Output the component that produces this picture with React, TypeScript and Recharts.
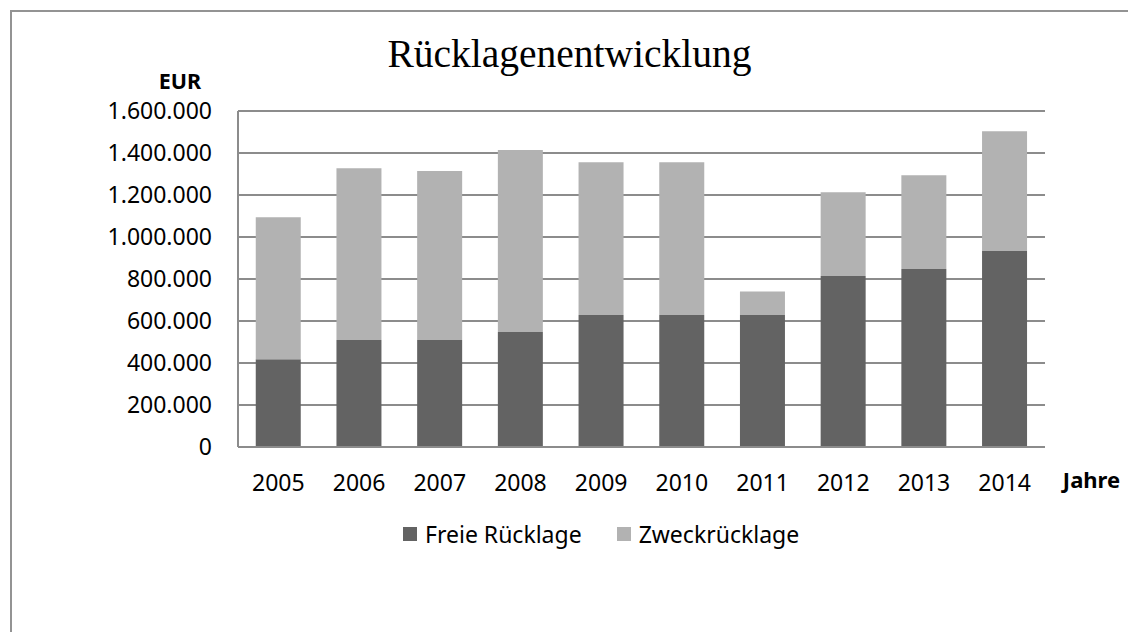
import { BarChart, Bar, XAxis, YAxis, CartesianGrid, Legend } from "recharts";

const years = ["2005", "2006", "2007", "2008", "2009", "2010", "2011", "2012", "2013", "2014"];
const freieRuecklage = [418000, 510000, 510000, 548000, 629000, 629000, 629000, 814000, 848000, 933000];
const zweckRuecklage = [676000, 817000, 804000, 866000, 727000, 727000, 112000, 399000, 446000, 570000];
const yTicks = [0, 200000, 400000, 600000, 800000, 1000000, 1200000, 1400000, 1600000];

const data = years.map((year, i) => ({
  year,
  freie: freieRuecklage[i],
  zweck: zweckRuecklage[i],
}));

const FONT = '"Noto Sans", sans-serif';
const GRID = "#8c8c8c";
const DARK = "#636363";
const LIGHT = "#b2b2b2";

const formatDe = (v: number) => String(v).replace(/\B(?=(\d{3})+(?!\d))/g, ".");

const legendItems = [
  { label: "Freie Rücklage", color: DARK },
  { label: "Zweckrücklage", color: LIGHT },
];

function ChartLegend() {
  return (
    <div style={{ display: "flex", alignItems: "center", fontFamily: FONT, fontSize: 23, color: "#000" }}>
      {legendItems.map((item, i) => (
        <div key={item.label} style={{ display: "flex", alignItems: "center", marginRight: i === 0 ? 35 : 0 }}>
          <span style={{ width: 14, height: 14, background: item.color, marginRight: 8, display: "inline-block" }} />
          <span>{item.label}</span>
        </div>
      ))}
    </div>
  );
}

export default function App() {
  return (
    <div style={{ position: "absolute", left: 0, top: 0, width: 1128, height: 632, background: "#fff", overflow: "hidden" }}>
      <div
        style={{
          position: "absolute",
          left: 10,
          top: 10,
          width: 2000,
          height: 2000,
          borderTop: "2px solid #939393",
          borderLeft: "2px solid #939393",
        }}
      />
      <BarChart
        width={1128}
        height={632}
        data={data}
        margin={{ top: 111, right: 83, left: 0, bottom: 125 }}
        barCategoryGap="22%"
        style={{ position: "absolute", left: 0, top: 0 }}
      >
        <CartesianGrid vertical={false} stroke={GRID} strokeWidth={2} />
        <XAxis
          dataKey="year"
          height={60}
          tickLine={false}
          tickSize={0}
          tickMargin={28}
          axisLine={{ stroke: GRID, strokeWidth: 2 }}
          tick={{ fill: "#000", fontSize: 23, fontFamily: FONT }}
        />
        <YAxis
          width={238}
          domain={[0, 1600000]}
          ticks={yTicks}
          tickLine={false}
          tickSize={0}
          tickMargin={26}
          axisLine={{ stroke: GRID, strokeWidth: 2 }}
          tickFormatter={formatDe}
          tick={{ fill: "#000", fontSize: 23, fontFamily: FONT }}
        />
        <Legend
          layout="horizontal"
          verticalAlign="middle"
          align="center"
          content={() => <ChartLegend />}
          wrapperStyle={{ left: 403, top: 518, width: 420, height: 32 }}
        />
        <Bar dataKey="freie" name="Freie Rücklage" stackId="a" fill={DARK} isAnimationActive={false} />
        <Bar dataKey="zweck" name="Zweckrücklage" stackId="a" fill={LIGHT} isAnimationActive={false} />
      </BarChart>
      <svg width={1128} height={632} style={{ position: "absolute", left: 0, top: 0, pointerEvents: "none" }}>
        <text x={569.5} y={67} textAnchor="middle" fontFamily='"Liberation Serif", serif' fontSize={39.5} fill="#000">
          Rücklagenentwicklung
        </text>
        <text x={180} y={89} textAnchor="middle" fontFamily={FONT} fontWeight="bold" fontSize={21.5} fill="#000">
          EUR
        </text>
        <text x={1091.5} y={488} textAnchor="middle" fontFamily={FONT} fontWeight="bold" fontSize={22} fill="#000">
          Jahre
        </text>
      </svg>
    </div>
  );
}
